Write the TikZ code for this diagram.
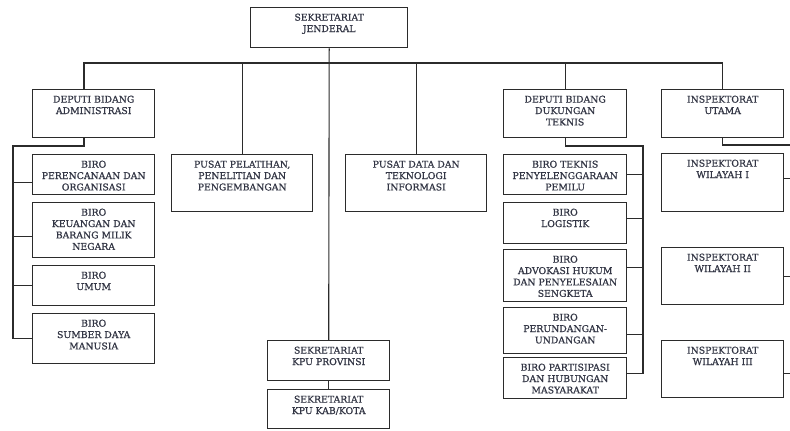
\documentclass[tikz,border=0pt]{standalone}
\usepackage{fontspec}
\setmainfont{DejaVu Serif}[FakeBold=0.9]
\definecolor{ln}{HTML}{2B2B2B}
\definecolor{tx}{HTML}{333645}
\tikzset{
  box/.style={draw=ln, line width=1.4pt, rectangle, inner sep=0pt, anchor=north west},
  lbl/.style={anchor=north, inner sep=0pt, align=center, text=tx,
    font=\fontsize{9.3}{11.4}\selectfont},
  conn/.style={draw=ln, line width=1.1pt},
}
\newcommand{\bx}[6]{%
  \node[box, minimum width=#4pt-#2pt, minimum height=#5pt-#3pt] (#1) at (#2,#3) {};
  \node[lbl] (#1t) at ([yshift=-6.5pt]#1.north) {#6};}
\begin{document}
\begin{tikzpicture}[x=1pt,y=-1pt]
\useasboundingbox (0,0) rectangle (790,431);
% boxes
\bx{sj}{250}{7}{407}{47}{SEKRETARIAT\\JENDERAL}
\bx{da}{32}{89}{154}{137}{DEPUTI BIDANG\\ADMINISTRASI}
\bx{bp}{32}{154}{154}{194}{BIRO\\PERENCANAAN DAN\\ORGANISASI}
\bx{bk}{32}{202}{154}{257}{BIRO\\KEUANGAN DAN\\BARANG MILIK\\NEGARA}
\bx{bu}{32}{265}{154}{305}{BIRO\\UMUM}
\bx{bs}{32}{313}{154}{363}{BIRO\\SUMBER DAYA\\MANUSIA}
\bx{pp}{171}{154}{312}{211}{PUSAT PELATIHAN,\\PENELITIAN DAN\\PENGEMBANGAN}
\bx{pd}{345}{154}{486}{211}{PUSAT DATA DAN\\TEKNOLOGI\\INFORMASI}
\bx{kp}{267}{340}{389}{380}{SEKRETARIAT\\KPU PROVINSI}
\bx{kk}{267}{389}{389}{428}{SEKRETARIAT\\KPU KAB/KOTA}
\bx{dt}{503}{89}{626}{137}{DEPUTI BIDANG\\DUKUNGAN\\TEKNIS}
\bx{bt}{503}{154}{626}{194}{BIRO TEKNIS\\PENYELENGGARAAN\\PEMILU}
\bx{bl}{503}{202}{626}{243}{BIRO\\LOGISTIK}
\bx{ba}{503}{249}{626}{301}{BIRO\\ADVOKASI HUKUM\\DAN PENYELESAIAN\\SENGKETA}
\bx{bd}{503}{307}{626}{353}{BIRO\\PERUNDANGAN-\\UNDANGAN}
\bx{bh}{503}{357}{626}{398}{BIRO PARTISIPASI\\DAN HUBUNGAN\\MASYARAKAT}
\bx{iu}{661}{89}{783}{137}{INSPEKTORAT\\UTAMA}
\bx{i1}{661}{153}{783}{211}{INSPEKTORAT\\WILAYAH I}
\bx{i2}{661}{247}{783}{304}{INSPEKTORAT\\WILAYAH II}
\bx{i3}{661}{340}{783}{397}{INSPEKTORAT\\WILAYAH III}
% main bus
\coordinate (bus) at (84,63);
\draw[conn] (sj.south) -- (kp.north);
\draw[conn] (da.north -| bus) -- (bus) -- (iu.north |- bus) -- (iu.north);
\foreach \n in {pp,pd,dt} \draw[conn] (\n.north |- bus) -- (\n.north);
\draw[conn] (kp.south) -- (kk.north);
% administrasi spine
\coordinate (sL) at (13,146);
\coordinate (bpB) at ([yshift=-8pt]bp.west);
\coordinate (bkB) at ([yshift=-6.5pt]bk.west);
\draw[conn] (da.south -| bus) -- (bus |- sL) -- (sL) -- (sL |- bs.west) -- (bs.west);
\draw[conn] (sL |- bpB) -- (bpB);
\draw[conn] (sL |- bkB) -- (bkB);
\draw[conn] (sL |- bu.west) -- (bu.west);
% teknis spine
\coordinate (sR) at (643,146);
\coordinate (btB) at (bt.east);
\coordinate (blB) at ([yshift=4.5pt]bl.east);
\coordinate (baB) at ([yshift=8pt]ba.east);
\coordinate (bdB) at ([yshift=-4pt]bd.east);
\coordinate (bhB) at ([yshift=4.5pt]bh.east);
\draw[conn] (dt.south) -- (dt.south |- sR) -- (sR) -- (sR |- bhB) -- (bhB);
\foreach \c in {btB,blB,baB,bdB} \draw[conn] (sR |- \c) -- (\c);
% inspektorat
\coordinate (sI) at (790,145);
\coordinate (i1B) at ([yshift=4pt]i1.east);
\coordinate (i2B) at (i2.east);
\coordinate (i3B) at ([yshift=-4.5pt]i3.east);
\draw[conn] (iu.south) -- (iu.south |- sI) -- (sI);
\foreach \c in {i1B,i2B,i3B} \draw[conn] (\c) -- (sI |- \c);
\end{tikzpicture}
\end{document}
